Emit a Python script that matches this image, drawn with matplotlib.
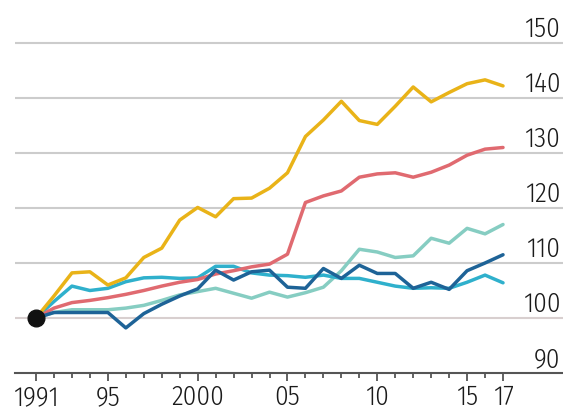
import matplotlib
matplotlib.use("Agg")
import matplotlib.pyplot as plt

plt.rcParams['font.family'] = ['Fira Sans Condensed', 'DejaVu Sans']
plt.rcParams['font.weight'] = 300

years = list(range(1991, 2018))

gold = [100, 104, 108.2, 108.4, 106, 107.3, 111, 112.7, 117.8, 120.1, 118.4, 121.7, 121.8,
        123.6, 126.4, 133, 136, 139.4, 135.9, 135.2, 138.5, 142, 139.3, 141, 142.6, 143.3, 142.2]
red = [100, 101.8, 102.8, 103.2, 103.7, 104.3, 105, 105.8, 106.5, 107, 108, 108.6, 109.3,
       109.8, 111.6, 121, 122.2, 123.1, 125.6, 126.2, 126.4, 125.6, 126.5, 127.8, 129.6, 130.7, 131]
pale_teal = [100, 101, 101.5, 101.5, 101.5, 101.8, 102.3, 103.2, 104.2, 104.8, 105.4, 104.5, 103.6,
             104.7, 103.8, 104.6, 105.6, 108.6, 112.5, 112, 111, 111.3, 114.5, 113.6, 116.3, 115.3, 117]
cyan = [100, 103, 105.8, 105, 105.4, 106.6, 107.3, 107.4, 107.2, 107.3, 109.4, 109.4, 108.2,
        107.8, 107.7, 107.4, 107.8, 107.2, 107.2, 106.5, 105.8, 105.4, 105.5, 105.4, 106.5, 107.8, 106.4]
dark_blue = [100, 101, 101, 101, 101, 98.2, 100.8, 102.5, 104, 105.3, 108.7, 106.9, 108.4,
             108.7, 105.6, 105.4, 109, 107.2, 109.6, 108.1, 108.1, 105.4, 106.5, 105.2, 108.6, 110, 111.5]

label_years = [1991, 1995, 2000, 2005, 2010, 2015, 2017]
label_text = ['1991', '95', '2000', '05', '10', '15', '17']
y_levels = [90, 100, 110, 120, 130, 140, 150]

fig = plt.figure(figsize=(5.63, 4.11), dpi=100)
ax = fig.add_axes([15 / 563, 38 / 411, 548 / 563, (373 - 15.5) / 411])

ax.set_xlim(1989.83, 2020.34)
ax.set_ylim(90, 155)

# gridlines
for v in y_levels[1:]:
    ax.axhline(v, color='#d8cfcf' if v == 100 else '#cccccc', lw=1.5, zorder=1)

for v in y_levels:
    ax.annotate(str(v), xy=(1, v), xycoords=('axes fraction', 'data'),
                xytext=(-2, 4.5), textcoords='offset points',
                ha='right', va='baseline', fontsize=19.5, color='#1a1a1a')

lw = 2.5
ax.plot(years, pale_teal, color='#86cdc2', lw=lw, zorder=3, solid_capstyle='round')
ax.plot(years, cyan, color='#2fb0cc', lw=lw, zorder=3, solid_capstyle='round')
ax.plot(years, red, color='#e06a70', lw=lw, zorder=3, solid_capstyle='round')
ax.plot(years, dark_blue, color='#1e6397', lw=lw, zorder=4, solid_capstyle='round')
ax.plot(years, gold, color='#e9b318', lw=lw, zorder=5, solid_capstyle='round')
ax.plot(years[0], gold[0], 'o', color='#111111', ms=12, zorder=6)

for s in ['top', 'left', 'right']:
    ax.spines[s].set_visible(False)
ax.spines['bottom'].set_color('#555555')
ax.spines['bottom'].set_linewidth(1.5)
ax.set_yticks([])

ax.set_xticks(label_years, label_text)
ax.set_xticks(years, minor=True)
ax.tick_params(axis='x', which='major', length=5.5, width=1.3, color='#555555',
               labelsize=19.5, labelcolor='#1a1a1a', pad=2.5)
ax.tick_params(axis='x', which='minor', length=3.5, width=1.3, color='#555555')

fig.savefig('out.png', dpi=100)
